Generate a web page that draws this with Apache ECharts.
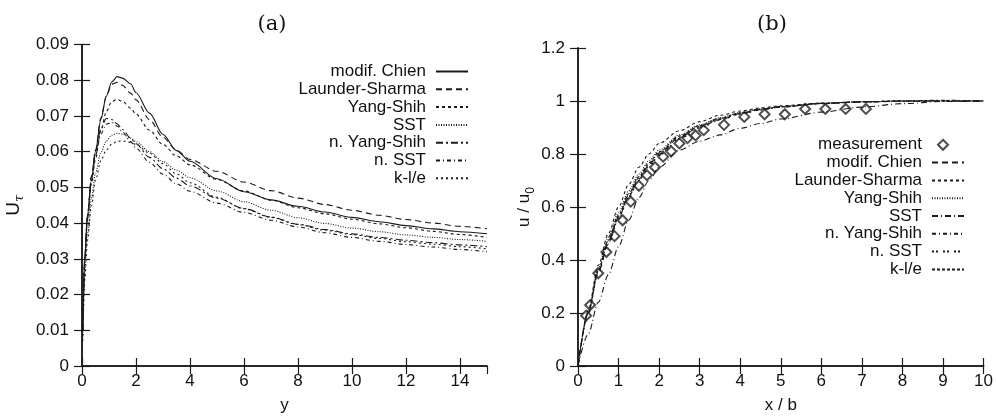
<!DOCTYPE html>
<html>
<head>
<meta charset="utf-8">
<script src="https://cdn.jsdelivr.net/npm/echarts@6/dist/echarts.min.js"></script>
<style>html,body{margin:0;padding:0;background:#fff}#c{width:996px;height:419px}</style>
</head>
<body>
<div id="c"></div>
<script>
// ---- panel (a): U_tau vs y
var XA=[0.03,0.1,0.2,0.35,0.5,0.7,0.9,1.1,1.3,1.5,1.8,2,2.5,3,3.5,4,5,6,7,8,9,10,11,12,13,14,15];
var A_CHIEN=[0.010,0.030,0.042,0.052,0.060,0.069,0.0755,0.0795,0.0810,0.0806,0.0790,0.0765,0.0708,0.0648,0.0603,0.0573,0.0524,0.0488,0.0465,0.0447,0.0431,0.0416,0.0404,0.0393,0.0384,0.0376,0.0370];
var A_LAUNDER=[0.010,0.030,0.042,0.053,0.0605,0.0695,0.0755,0.0789,0.0794,0.0786,0.0764,0.0745,0.0690,0.0640,0.0604,0.0578,0.0545,0.0515,0.0491,0.0470,0.0452,0.0436,0.0422,0.0410,0.0400,0.0391,0.0384];
var A_YANG=[0.010,0.029,0.041,0.051,0.058,0.0660,0.0712,0.0740,0.0746,0.0741,0.0722,0.0705,0.0660,0.0620,0.0588,0.0563,0.0522,0.0490,0.0464,0.0443,0.0426,0.0411,0.0398,0.0387,0.0377,0.0368,0.0360];
var A_SST=[0.008,0.026,0.037,0.047,0.054,0.0598,0.0630,0.0646,0.0651,0.0649,0.0638,0.0628,0.0600,0.0572,0.0548,0.0527,0.0490,0.0460,0.0436,0.0415,0.0399,0.0386,0.0376,0.0367,0.0360,0.0354,0.0349];
var A_NYANG=[0.010,0.030,0.042,0.053,0.060,0.0665,0.0693,0.0690,0.0678,0.0662,0.0638,0.0622,0.0584,0.0552,0.0526,0.0504,0.0470,0.0441,0.0417,0.0397,0.0382,0.0370,0.0360,0.0352,0.0345,0.0339,0.0334];
var A_NSST=[0.010,0.030,0.041,0.052,0.059,0.0650,0.0677,0.0682,0.0672,0.0655,0.0628,0.0610,0.0570,0.0537,0.0510,0.0489,0.0456,0.0430,0.0408,0.0389,0.0373,0.0360,0.0349,0.0340,0.0333,0.0326,0.0320];
var A_KLE=[0.007,0.024,0.035,0.045,0.052,0.0575,0.0605,0.0621,0.0629,0.0630,0.0626,0.0620,0.0596,0.0566,0.0538,0.0513,0.0472,0.0440,0.0416,0.0396,0.0380,0.0368,0.0357,0.0348,0.0341,0.0334,0.0328];

// ---- panel (b): u/u0 vs x/b
var XB=[0,0.25,0.5,0.75,1,1.25,1.5,1.75,2,2.5,3,3.5,4,4.5,5,6,7,8,9,10];
var B_CHIEN=[0,0.20,0.355,0.465,0.56,0.64,0.705,0.758,0.80,0.862,0.902,0.93,0.952,0.967,0.977,0.99,0.996,0.999,1.0,1.0];
var B_LAUNDER=[0,0.21,0.38,0.50,0.60,0.685,0.75,0.80,0.84,0.888,0.922,0.946,0.962,0.974,0.982,0.992,0.997,1.0,1.0,1.0];
var B_YANG=[0,0.205,0.37,0.485,0.58,0.66,0.725,0.775,0.815,0.872,0.91,0.937,0.956,0.97,0.979,0.991,0.997,1.0,1.0,1.0];
var B_SST=[0,0.12,0.24,0.345,0.45,0.55,0.635,0.70,0.75,0.815,0.848,0.872,0.897,0.915,0.932,0.958,0.977,0.99,0.998,1.0];
var B_NYANG=[0,0.2,0.36,0.47,0.565,0.645,0.71,0.762,0.805,0.865,0.905,0.933,0.954,0.969,0.979,0.991,0.997,1.0,1.003,1.0];
var B_NSST=[0,0.195,0.35,0.46,0.555,0.635,0.70,0.752,0.795,0.857,0.898,0.928,0.95,0.966,0.977,0.99,0.996,1.0,1.002,1.0];
var B_KLE=[0,0.2,0.36,0.475,0.57,0.65,0.715,0.767,0.808,0.868,0.907,0.935,0.955,0.969,0.979,0.991,0.997,1.0,1.0,1.0];
var MEAS_X=[0.2,0.3,0.5,0.7,0.9,1.1,1.3,1.5,1.7,1.9,2.1,2.3,2.5,2.7,2.9,3.1,3.6,4.1,4.6,5.1,5.6,6.1,6.6,7.1];
var MEAS_Y=[0.19,0.23,0.35,0.43,0.49,0.55,0.62,0.68,0.72,0.75,0.79,0.81,0.84,0.86,0.87,0.89,0.91,0.94,0.95,0.95,0.97,0.97,0.97,0.97];

var FONT='Liberation Sans', INK='#1a1a1a';
function zip(xs,ys){ return xs.map(function(x,i){return [x,ys[i]];}); }
function strip(n){ return n.replace(/^[ab]:/,''); }

// series defs: [name, x, y, dash]
var defsA=[
  ['a:modif. Chien',XA,A_CHIEN,'solid'],
  ['a:Launder-Sharma',XA,A_LAUNDER,[6,4]],
  ['a:Yang-Shih',XA,A_YANG,[3,3]],
  ['a:SST',XA,A_SST,[1,1.5]],
  ['a:n. Yang-Shih',XA,A_NYANG,[7,3,2,3]],
  ['a:n. SST',XA,A_NSST,[4,3,1,3]],
  ['a:k-l/e',XA,A_KLE,[2,3]]
];
var defsB=[
  ['b:modif. Chien',XB,B_CHIEN,[6,4]],
  ['b:Launder-Sharma',XB,B_LAUNDER,[3,3]],
  ['b:Yang-Shih',XB,B_YANG,[1,1.5]],
  ['b:SST',XB,B_SST,[6,3,1,3]],
  ['b:n. Yang-Shih',XB,B_NYANG,[4,3,1,3]],
  ['b:n. SST',XB,B_NSST,[2,2,2,5]],
  ['b:k-l/e',XB,B_KLE,[3,2]]
];

var series=[];
function addLines(defs,xi,yi){
  defs.forEach(function(d){
    series.push({type:'line',name:d[0],xAxisIndex:xi,yAxisIndex:yi,data:zip(d[1],d[2]),
      symbol:'none',smooth:0.3,smoothMonotone:'x',silent:true,
      lineStyle:{color:INK,width:1.1,type:d[3]},itemStyle:{color:INK}});
  });
}
addLines(defsA,0,0);
series.push({type:'scatter',name:'b:measurement',xAxisIndex:2,yAxisIndex:2,data:zip(MEAS_X,MEAS_Y),
  symbol:'emptyDiamond',symbolSize:10,itemStyle:{color:'#222',borderWidth:1},silent:true});
addLines(defsB,2,2);

// one legend box per row so the text is right-aligned against the sample
var legends=[];
function addLegend(name,right,center,w,h,pad,hideSym){
  var l={right:right,top:center-7,padding:0,data:[name],align:'right',selectedMode:false,
    itemWidth:w,itemHeight:h,formatter:strip,
    textStyle:{fontFamily:FONT,fontSize:17,color:'#111',padding:[0,pad,0,0]}};
  if (hideSym) l.itemStyle={opacity:0};
  legends.push(l);
}
defsA.forEach(function(d,i){ addLegend(d[0],527,70+17.8*i,32,12,5,true); });
addLegend('b:measurement',47,143.3,10,10,11,false);
defsB.forEach(function(d,i){ addLegend(d[0],31,161.1+17.8*i,32,12,5,true); });

var axisLine={lineStyle:{color:INK,width:1.5}};
var tick={inside:true,length:8,lineStyle:{color:INK,width:1.2}};
var lbl={fontFamily:FONT,fontSize:17,color:'#111'};
function frameAxis(base,pos){
  return Object.assign({},base,{position:pos,axisLabel:{show:false},name:'',axisTick:tick});
}
var xa={type:'value',gridIndex:0,min:0,max:15,interval:2,axisLine:axisLine,axisTick:tick,splitLine:{show:false},
  axisLabel:Object.assign({margin:7,showMaxLabel:false},lbl),name:'y',nameLocation:'middle',nameGap:31,nameTextStyle:lbl};
var ya={type:'value',gridIndex:0,min:0,max:0.09,interval:0.01,axisLine:axisLine,axisTick:tick,splitLine:{show:false},
  axisLabel:Object.assign({margin:13},lbl),name:'{u|U}{t|τ}',nameLocation:'middle',nameGap:47,
  nameTextStyle:{rich:{u:{fontFamily:FONT,fontSize:19,color:'#111',verticalAlign:'top',lineHeight:19},
    t:{fontFamily:'DejaVu Serif',fontStyle:'italic',fontSize:13,color:'#111',lineHeight:31}}}};
var xb={type:'value',gridIndex:1,min:0,max:10,interval:1,axisLine:axisLine,axisTick:tick,splitLine:{show:false},
  axisLabel:Object.assign({margin:7},lbl),name:'x / b',nameLocation:'middle',nameGap:31,nameTextStyle:lbl};
var yb={type:'value',gridIndex:1,min:0,max:1.2,interval:0.2,axisLine:axisLine,axisTick:tick,splitLine:{show:false},
  axisLabel:Object.assign({margin:13},lbl),name:'{u|u / u}{t|0}',nameLocation:'middle',nameGap:33,
  nameTextStyle:{rich:{u:{fontFamily:FONT,fontSize:17,color:'#111',verticalAlign:'top',lineHeight:17},
    t:{fontFamily:FONT,fontSize:12,color:'#111',lineHeight:29}}}};

var chart=echarts.init(document.getElementById('c'),null,{renderer:'canvas'});
chart.setOption({
  animation:false,
  backgroundColor:'#fff',
  title:[
    {text:'(a)',left:267,top:9,textAlign:'center',textStyle:{fontFamily:'DejaVu Serif',fontSize:21,fontWeight:'normal',color:'#111'}},
    {text:'(b)',left:767,top:9,textAlign:'center',textStyle:{fontFamily:'DejaVu Serif',fontSize:21,fontWeight:'normal',color:'#111'}}
  ],
  grid:[
    {left:82,top:44.5,right:509,bottom:48},
    {left:578,top:48,right:12,bottom:46}
  ],
  xAxis:[xa,frameAxis(xa,'top'),xb,frameAxis(xb,'top')],
  yAxis:[ya,frameAxis(ya,'right'),yb,frameAxis(yb,'right')],
  legend:legends,
  series:series
});
</script>
</body>
</html>
